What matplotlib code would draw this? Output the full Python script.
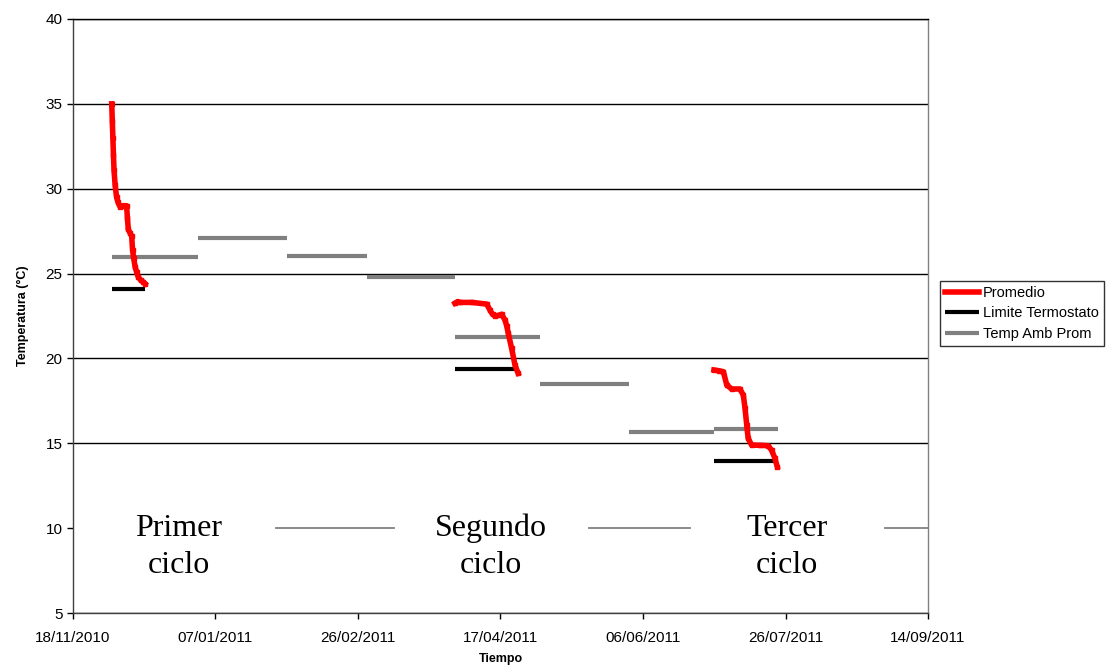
import numpy as np
import matplotlib
matplotlib.use("Agg")
import matplotlib.pyplot as plt
import datetime as dt

# ---- data (x in days since 18/11/2010) ----
start_date = dt.date(2010, 11, 18)
tick_days = [0, 50, 100, 150, 200, 250, 300]
tick_labels = ["18/11/2010", "07/01/2011", "26/02/2011", "17/04/2011",
               "06/06/2011", "26/07/2011", "14/09/2011"]
y_ticks = [5, 10, 15, 20, 25, 30, 35, 40]

# Promedio (three cycles)
c1_days = [13.6, 13.8, 14.0, 14.2, 14.4, 14.8, 15.3, 15.8, 16.5, 17.5, 18.8, 19.1, 19.4, 20.0, 20.6, 20.9, 21.3, 21.8, 22.3, 22.9, 23.8, 24.7, 25.3]
c1_temp = [35.0, 34.0, 33.0, 32.0, 31.1, 30.2, 29.5, 29.2, 28.94, 29.0, 29.0, 28.3, 27.6, 27.4, 27.2, 26.4, 25.9, 25.4, 25.1, 24.8, 24.6, 24.5, 24.4]

c2_days = [134.0, 135.0, 135.8, 140.0, 145.2, 146.3, 147.2, 148.1, 149.5, 150.4, 151.6, 152.2, 152.7, 153.9, 155.1, 156.2]
c2_temp = [23.25, 23.35, 23.3, 23.3, 23.2, 22.85, 22.6, 22.5, 22.55, 22.6, 22.26, 21.9, 21.5, 20.6, 19.6, 19.12]

c3_days = [224.9, 226.5, 228.2, 229.4, 231.1, 234.0, 235.2, 235.8, 236.4, 236.9, 238.1, 241.0, 243.9, 245.1, 246.3, 247.1]
c3_temp = [19.32, 19.28, 19.22, 18.43, 18.2, 18.2, 17.84, 17.06, 16.08, 15.29, 14.9, 14.88, 14.86, 14.6, 14.11, 13.62]

# Limite Termostato
lim_start = [13.6, 134.0, 224.9]
lim_end = [25.3, 156.2, 247.1]
lim_value = [24.07, 19.36, 13.95]

# Temp Amb Prom (monthly)
amb_start = [13.6, 44.0, 75.0, 103.0, 134.0, 164.0, 195.0, 225.0]
amb_end = [44.0, 75.0, 103.0, 134.0, 164.0, 195.0, 225.0, 247.5]
amb_value = [26.0, 27.08, 26.05, 24.78, 21.26, 18.47, 15.66, 15.86]

# Annotations
ann_text = ["Primer\nciclo", "Segundo\nciclo", "Tercer\nciclo"]
ann_x = [37.2, 146.7, 250.5]
ann_y = [8.9, 8.9, 8.9]
dash_start = [71.2, 181.1, 284.9]
dash_end = [112.6, 216.5, 300.0]
dash_y = 10.0

# ---- figure ----
plt.rcParams['font.family'] = ['Liberation Sans', 'DejaVu Sans']
fig = plt.figure(figsize=(11.09, 6.68), dpi=100)
ax = fig.add_axes([0.0658, 0.0823, 0.7710, 0.8893])

ax.set_xlim(0, 300)
ax.set_ylim(5, 40)
ax.set_yticks(y_ticks)
ax.set_xticks(tick_days)
ax.set_xticklabels(tick_labels)
ax.tick_params(axis='both', labelsize=11, direction='out', length=4, width=1, colors='black')
ax.tick_params(axis='x', pad=9)
ax.grid(axis='y', color='black', linewidth=1)
ax.set_axisbelow(True)
for s in ax.spines.values():
    s.set_linewidth(1)
    s.set_color('black')
ax.spines['left'].set_color('#404040')
ax.spines['bottom'].set_color('#404040')
ax.spines['right'].set_color('#808080')

gray = '#808080'
# hide gridline at 10 (covered by the white text boxes in the original)
ax.plot([0.3, 299.7], [dash_y, dash_y], color='white', linewidth=2.5, zorder=2)

# Temp Amb Prom
for i, (a, b, v) in enumerate(zip(amb_start, amb_end, amb_value)):
    ax.plot([a, b], [v, v], color=gray, linewidth=3, solid_capstyle='butt',
            label='Temp Amb Prom' if i == 0 else None, zorder=3)
# Limite Termostato
for i, (a, b, v) in enumerate(zip(lim_start, lim_end, lim_value)):
    ax.plot([a, b], [v, v], color='black', linewidth=3, solid_capstyle='butt',
            label='Limite Termostato' if i == 0 else None, zorder=4)
# Promedio
for i, (d, t) in enumerate([(c1_days, c1_temp), (c2_days, c2_temp), (c3_days, c3_temp)]):
    ax.plot(d, t, color='red', linewidth=4, marker='s', markersize=3,
            label='Promedio' if i == 0 else None, zorder=5)

# annotations
for txt, x, y in zip(ann_text, ann_x, ann_y):
    ax.text(x, y, txt, ha='center', va='center', fontsize=23,
            family=['Liberation Serif', 'DejaVu Serif'], linespacing=1.35, zorder=6)
for a, b in zip(dash_start, dash_end):
    ax.plot([a, b], [dash_y, dash_y], color=gray, linewidth=1.3, zorder=6)

ax.set_xlabel('Tiempo', fontsize=9, fontweight='bold', labelpad=6)
ax.set_ylabel('Temperatura (°C)', fontsize=9, fontweight='bold', labelpad=12)

handles, labels = ax.get_legend_handles_labels()
order = [labels.index('Promedio'), labels.index('Limite Termostato'), labels.index('Temp Amb Prom')]
leg = fig.legend([handles[i] for i in order], [labels[i] for i in order],
                 loc='center left', bbox_to_anchor=(0.8476, 0.531),
                 fontsize=10.5, frameon=True, fancybox=False, edgecolor='black',
                 handlelength=2.3, handletextpad=0.3, borderpad=0.35, labelspacing=0.45,
                 borderaxespad=0)
leg.get_frame().set_linewidth(1)
for h in leg.legend_handles:
    h.set_marker('')

fig.savefig('out.png', dpi=100)
